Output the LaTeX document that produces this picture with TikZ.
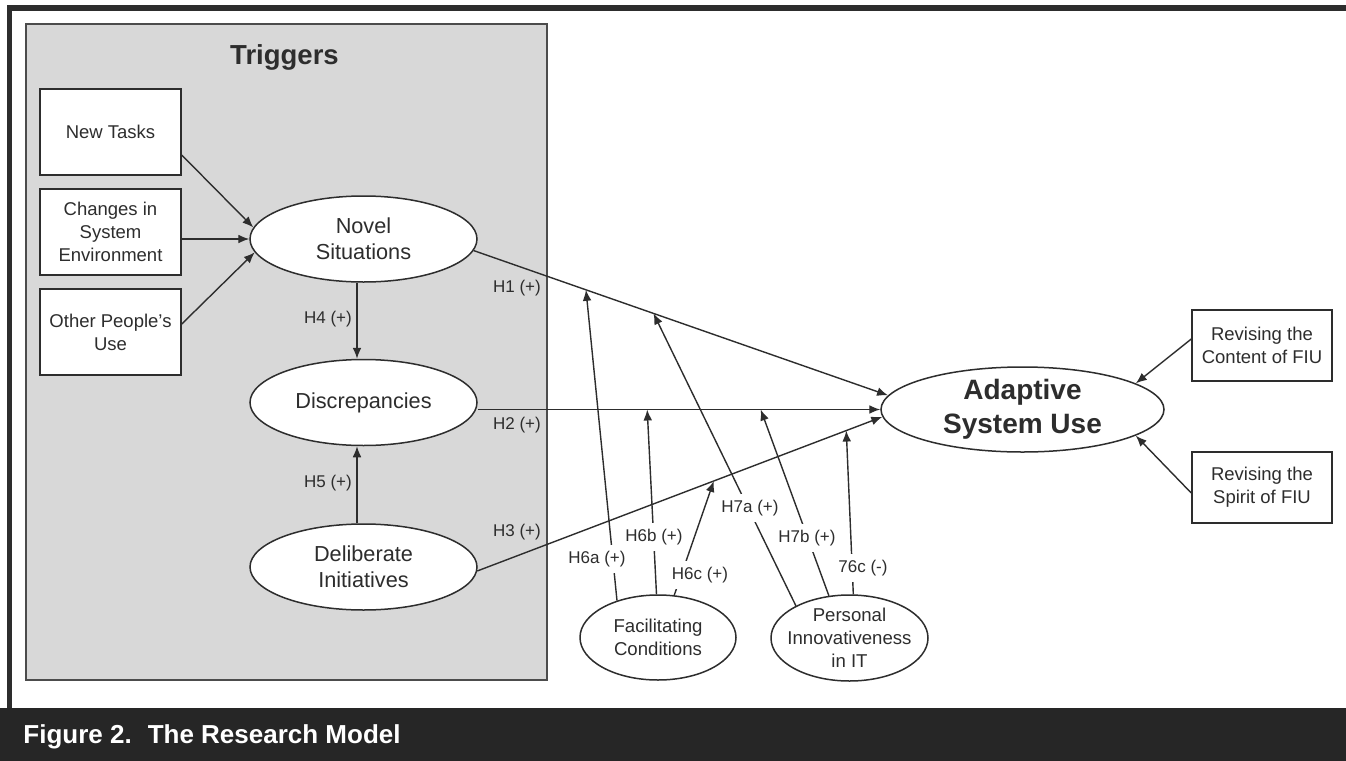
\documentclass[tikz,border=0pt]{standalone}
\usepackage{fontspec}
\setmainfont{Liberation Sans}
\usetikzlibrary{shapes.geometric,arrows.meta}
\definecolor{ink}{RGB}{45,45,45}
\definecolor{trig}{RGB}{216,216,216}
\definecolor{band}{RGB}{38,38,38}
\begin{document}
\begin{tikzpicture}[x=0.5pt,y=-0.5pt,
  every node/.style={text=ink},
  arr/.style={-{Latex[length=5.5pt,width=4.4pt]}, line width=0.7pt, draw=ink},
  cbox/.style={draw=ink, fill=white, line width=0.75pt, minimum width=70.5pt, minimum height=43pt, inner sep=0pt, align=center, font=\fontsize{9.25}{11.4}\selectfont},
  rbox/.style={cbox, minimum width=70pt, minimum height=35.5pt},
  ell/.style={ellipse, draw=ink, fill=white, line width=0.75pt, inner sep=-6pt, align=center},
  trigell/.style={ell, minimum width=113.5pt, minimum height=43pt, font=\fontsize{10.85}{13}\selectfont},
  modell/.style={ell, minimum width=78pt, minimum height=42.5pt, font=\fontsize{9.3}{11.4}\selectfont},
  hl/.style={font=\fontsize{8.5}{10}\selectfont, inner sep=0pt},
  ml/.style={hl, fill=white, inner xsep=1.5pt, inner ysep=3pt}
]
\useasboundingbox (0,0) rectangle (1346,761);
\fill[white] (0,0) rectangle (1346,761);
\fill[band] (0,708) rectangle (1346,761);
\fill[ink] (7,5) rectangle (1346,11);
\fill[ink] (7,5) rectangle (12,708);
\draw[fill=trig, draw=ink!85, line width=0.6pt] (26,24) rectangle (547,680);

\node[font=\bfseries\fontsize{13.75}{16}\selectfont, anchor=base, inner sep=0pt] (trg) at (284.5,64) {Triggers};
\node[cbox] (nt) at (110.5,132) {New Tasks};
\node[cbox] (ch) at (110.5,232) {Changes in\\System\\Environment};
\node[cbox] (op) at (110.5,332) {Other People's\\Use};

\node[trigell] (nov) at (363.5,239) {Novel\\Situations};
\node[trigell] (dis) at (363.5,402.5) {Discrepancies};
\node[trigell] (del) at (363.5,567) {Deliberate\\Initiatives};

\node[ell, minimum width=141.5pt, minimum height=42.5pt, font=\bfseries\fontsize{14}{17}\selectfont] (adp) at (1022.5,409.5) {Adaptive\\System Use};

\node[modell] (fc) at (658,637.5) {Facilitating\\Conditions};
\node[modell, minimum width=78.5pt, minimum height=43pt] (pi) at (849.5,638) {Personal\\Innovativeness\\in IT};

\node[rbox] (rc) at (1262,345.5) {Revising the\\Content of FIU};
\node[rbox] (rs) at (1262,487.5) {Revising the\\Spirit of FIU};

% trigger inputs
\draw[arr] ([yshift=-11.5pt]nt.east) -- (nov.174);
\draw[arr] (ch.east |- nov.west) -- (nov.west);
\draw[arr] ([yshift=4pt]op.east) -- (nov.187);

% main paths
\draw[arr] (nov.-6) -- coordinate[pos=0.271] (t6a) coordinate[pos=0.434] (t7a) (adp.174);
\draw[arr] (dis.east |- adp.west) -- coordinate[pos=0.421] (t6b) coordinate[pos=0.703] (t7b) (adp.west);
\draw[arr] (del.-2) -- coordinate[pos=0.584] (t6c) coordinate[pos=0.911] (t7c) (adp.183.5);
\draw[arr] ([xshift=-3.25pt]nov.south) -- ([xshift=-3.25pt]dis.north);
\draw[arr] ([xshift=-3.25pt]del.north) -- ([xshift=-3.25pt]dis.south);

% moderators
\draw[arr] (fc.138.3) -- (t6a);
\draw[arr] (fc.92) -- (t6b);
\draw[arr] (fc.69) -- (t6c);
\draw[arr] (pi.149.6) -- (t7a);
\draw[arr] (pi.116) -- (t7b);
\draw[arr] (pi.85) -- (t7c);

% FIU revisions
\draw[arr] ([yshift=3.25pt]rc.west) -- (adp.13);
\draw[arr] ([yshift=-2.75pt]rs.west) -- (adp.-13);

% labels
\node[hl] (l1) at (517,288) {H1 (+)};
\node[hl] (l2) at (517,425) {H2 (+)};
\node[hl] (l3) at (517,532) {H3 (+)};
\node[hl] (l4) at (328,319) {H4 (+)};
\node[hl] (l5) at (328,483) {H5 (+)};
\node[ml] (l6a) at (597,559) {H6a (+)};
\node[ml] (l6b) at (654,537) {H6b (+)};
\node[ml] (l6c) at (700,575) {H6c (+)};
\node[ml] (l7a) at (750,508) {H7a (+)};
\node[ml] (l7b) at (807,538) {H7b (+)};
\node[ml] (l7c) at (863,568) {76c (-)};

\node[anchor=base west, text=white, font=\bfseries\fontsize{13}{15}\selectfont, inner sep=0pt] (cap) at (23,743) {Figure 2.\hspace{8pt}The Research Model};
\end{tikzpicture}
\end{document}
